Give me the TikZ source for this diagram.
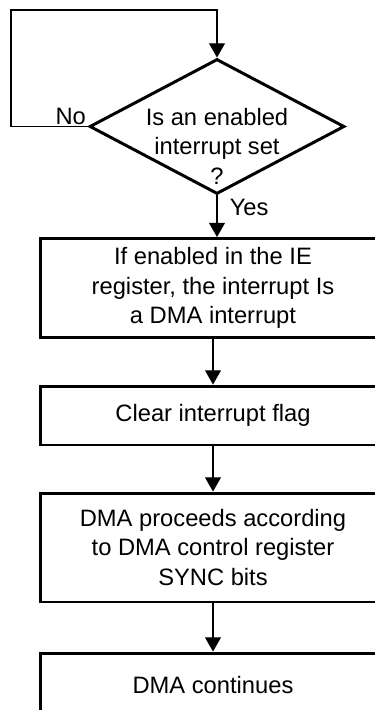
\documentclass[tikz,border=0pt]{standalone}
\usepackage{fontspec}
\setmainfont{Liberation Sans}
\usetikzlibrary{arrows.meta, shapes.geometric, positioning}

\begin{document}
\begin{tikzpicture}[x=0.02cm, y=-0.02cm,
        every node/.style={font=\fontsize{13.5}{16.8}\selectfont, align=center},
        stepbox/.style={draw, line width=1.7pt, minimum width=6.92cm, inner sep=0pt},
        decision/.style={draw, diamond, line width=1.7pt, minimum width=5.1cm, minimum height=2.7cm, inner sep=0pt},
        flow/.style={-{Triangle[width=9pt, length=8pt]}, line width=0.6pt}]
                \clip (0,0) rectangle (375,710);
                \coordinate (lp) at (11,10);
                \node[decision] (q) at (217,126.5) {};
                \node (qtext) at (217,146) {Is an enabled\\interrupt set\\?};
                \node[stepbox, minimum height=1.98cm] (b1) at (213,288) {If enabled in the IE\\register, the interrupt Is\\a DMA interrupt};
                \node[stepbox, minimum height=1.18cm] (b2) at (213,415.5) {Clear interrupt flag};
                \node[stepbox, minimum height=2.18cm] (b3) at (213,547.5) {DMA proceeds according\\to DMA control register\\SYNC bits};
                \node[stepbox, minimum height=1.28cm] (b4) at (213,685) {DMA continues};
                \draw[flow] (q.west) -- (q.west -| lp) -- (lp) -- (lp -| q.north) -- (q.north);
                \node[anchor=south east, inner sep=1pt] (no) at (q.west) {No};
                \draw[flow] (q.south) -- node[pos=0.3, right=7pt, inner sep=0pt] (yes) {Yes} (q.south |- b1.north);
                \draw[flow] (b1) -- (b2);
                \draw[flow] (b2) -- (b3);
                \draw[flow] (b3) -- (b4);
            \end{tikzpicture}
\end{document}
